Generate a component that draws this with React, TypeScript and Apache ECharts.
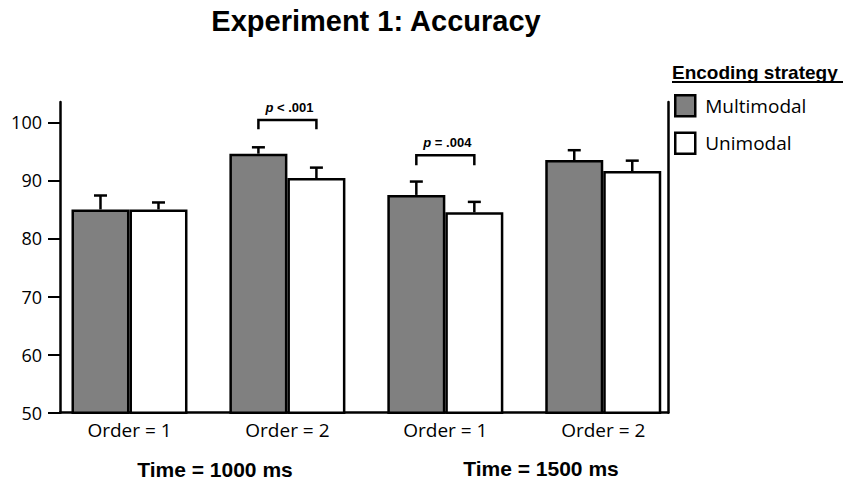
import React, { useEffect, useRef } from "react";
import * as echarts from "echarts";

const categories = ["Order = 1", "Order = 2", "Order = 1", "Order = 2"];
const categoryIndex = [0, 1, 2, 3];
const timeGroups = ["Time = 1000 ms", "Time = 1500 ms"];
const seriesNames = ["Multimodal", "Unimodal"];
const multimodal = [85.0, 94.6, 87.5, 93.5];
const multimodalErr = [2.4, 1.1, 2.3, 1.7];
const unimodal = [85.0, 90.4, 84.5, 91.6];
const unimodalErr = [1.2, 1.8, 1.8, 1.8];
const yTicks = [50, 60, 70, 80, 90, 100];
const sigGroups = [1, 2];
const sigLabels = ["p < .001", "p = .004"];
const sigTop = [100.4, 94.35];
const sigLeg = [98.8, 92.6];

const BAR_W = 58;
const HALF = BAR_W / 2;
const ARIAL = "'Liberation Sans', Arial, sans-serif";
const BODY = "'Open Sans', sans-serif";

export default function App() {
  const ref = useRef<HTMLDivElement>(null);
  useEffect(() => {
    if (!ref.current) return;
    const chart = echarts.init(ref.current, undefined, { renderer: "svg" });

    const errData: number[][] = [];
    categoryIndex.forEach((x, i) => {
      errData.push([x, multimodal[i], multimodalErr[i], -1]);
      errData.push([x, unimodal[i], unimodalErr[i], 1]);
    });
    const sigData = sigGroups.map((g, i) => [g, sigTop[i], sigLeg[i], i]);

    const option: any = {
      animation: false,
      backgroundColor: "#fff",
      grid: { left: 60, right: 189, top: 102, bottom: 71.3 },
      xAxis: {
        type: "value",
        min: -0.44,
        max: 3.41,
        splitLine: { show: false },
        axisLine: { show: true, onZero: false, lineStyle: { color: "#000", width: 2.5 } },
        axisTick: { show: false },
        axisLabel: {
          customValues: categoryIndex,
          formatter: (v: number) => categories[Math.round(v)] ?? "",
          fontFamily: BODY,
          fontSize: 19,
          color: "#000",
          margin: 8,
        },
      },
      yAxis: [
        {
          type: "value",
          min: 50,
          max: 103.5,
          splitLine: { show: false },
          axisLine: { show: true, onZero: false, lineStyle: { color: "#000", width: 2.5 } },
          axisTick: { show: true, length: 12, customValues: yTicks, lineStyle: { color: "#000", width: 2 } },
          axisLabel: {
            customValues: yTicks,
            fontFamily: BODY,
            fontSize: 18,
            color: "#000",
            margin: 18,
          },
        },
        {
          type: "value",
          position: "right",
          min: 50,
          max: 103.5,
          splitLine: { show: false },
          axisLine: { show: true, onZero: false, lineStyle: { color: "#000", width: 2.5 } },
          axisTick: { show: false },
          axisLabel: { show: false },
        },
      ],
      legend: {
        data: seriesNames,
        orient: "vertical",
        left: 674,
        top: 94,
        padding: 0,
        itemWidth: 20,
        itemHeight: 21,
        itemGap: 14,
        icon: "rect",
        selectedMode: false,
        itemStyle: { borderColor: "#000", borderWidth: 2.5 },
        textStyle: { fontFamily: BODY, fontSize: 19, color: "#000", padding: [0, 0, 0, 5] },
      },
      graphic: [
        {
          type: "text",
          x: 376,
          y: 21,
          style: {
            text: "Experiment 1: Accuracy",
            font: `bold 29px ${ARIAL}`,
            fill: "#000",
            textAlign: "center",
            textVerticalAlign: "middle",
          },
        },
        {
          type: "text",
          x: 672,
          y: 72,
          style: {
            text: "Encoding strategy",
            font: `bold 19px ${ARIAL}`,
            fill: "#000",
            textAlign: "left",
            textVerticalAlign: "middle",
          },
        },
        {
          type: "line",
          shape: { x1: 672, y1: 82, x2: 843, y2: 82 },
          style: { stroke: "#000", lineWidth: 2 },
        },
        {
          type: "text",
          x: 215,
          y: 469,
          style: {
            text: timeGroups[0],
            font: `bold 21px ${ARIAL}`,
            fill: "#000",
            textAlign: "center",
            textVerticalAlign: "middle",
          },
        },
        {
          type: "text",
          x: 541,
          y: 468,
          style: {
            text: timeGroups[1],
            font: `bold 21px ${ARIAL}`,
            fill: "#000",
            textAlign: "center",
            textVerticalAlign: "middle",
          },
        },
      ],
      series: [
        {
          name: seriesNames[0],
          type: "bar",
          barWidth: BAR_W,
          barGap: "0%",
          data: categoryIndex.map((x, i) => [x, multimodal[i]]),
          itemStyle: { color: "#808080", borderColor: "#000", borderWidth: 2.5 },
        },
        {
          name: seriesNames[1],
          type: "bar",
          barWidth: BAR_W,
          barGap: "0%",
          data: categoryIndex.map((x, i) => [x, unimodal[i]]),
          itemStyle: { color: "#ffffff", borderColor: "#000", borderWidth: 2.5 },
        },
        {
          type: "custom",
          z: 5,
          silent: true,
          data: errData,
          renderItem: (params: any, api: any) => {
            const x = api.value(0);
            const y = api.value(1);
            const e = api.value(2);
            const side = api.value(3);
            const p0 = api.coord([x, y]);
            const p1 = api.coord([x, y + e]);
            const cx = p0[0] + side * HALF;
            const st = { stroke: "#000", lineWidth: 2.5 };
            return {
              type: "group",
              children: [
                { type: "line", shape: { x1: cx, y1: p0[1], x2: cx, y2: p1[1] }, style: st },
                { type: "line", shape: { x1: cx - 6.5, y1: p1[1], x2: cx + 6.5, y2: p1[1] }, style: st },
              ],
            };
          },
        },
        {
          type: "custom",
          z: 5,
          silent: true,
          data: sigData,
          renderItem: (params: any, api: any) => {
            const g = api.value(0);
            const top = api.value(1);
            const leg = api.value(2);
            const idx = api.value(3);
            const pt = api.coord([g, top]);
            const pl = api.coord([g, leg]);
            const xl = pt[0] - HALF;
            const xr = pt[0] + HALF;
            const label = sigLabels[idx];
            const rest = label.slice(1);
            return {
              type: "group",
              children: [
                {
                  type: "polyline",
                  shape: { points: [[xl, pl[1]], [xl, pt[1]], [xr, pt[1]], [xr, pl[1]]] },
                  style: { stroke: "#000", lineWidth: 2.5, fill: "none" },
                },
                {
                  type: "text",
                  x: pt[0] + 2,
                  y: pt[1] - 13,
                  style: {
                    text: "{i|p}{b|" + rest + "}",
                    textAlign: "center",
                    textVerticalAlign: "middle",
                    rich: {
                      i: { fontFamily: ARIAL, fontSize: 13, fontWeight: "bold", fontStyle: "italic", fill: "#000" },
                      b: { fontFamily: ARIAL, fontSize: 13, fontWeight: "bold", fill: "#000" },
                    },
                  },
                },
              ],
            };
          },
        },
      ],
    };
    chart.setOption(option);
    return () => chart.dispose();
  }, []);
  return (
    <div
      ref={ref}
      style={{ position: "fixed", left: 0, top: 0, width: 857, height: 484, background: "#fff" }}
    />
  );
}
